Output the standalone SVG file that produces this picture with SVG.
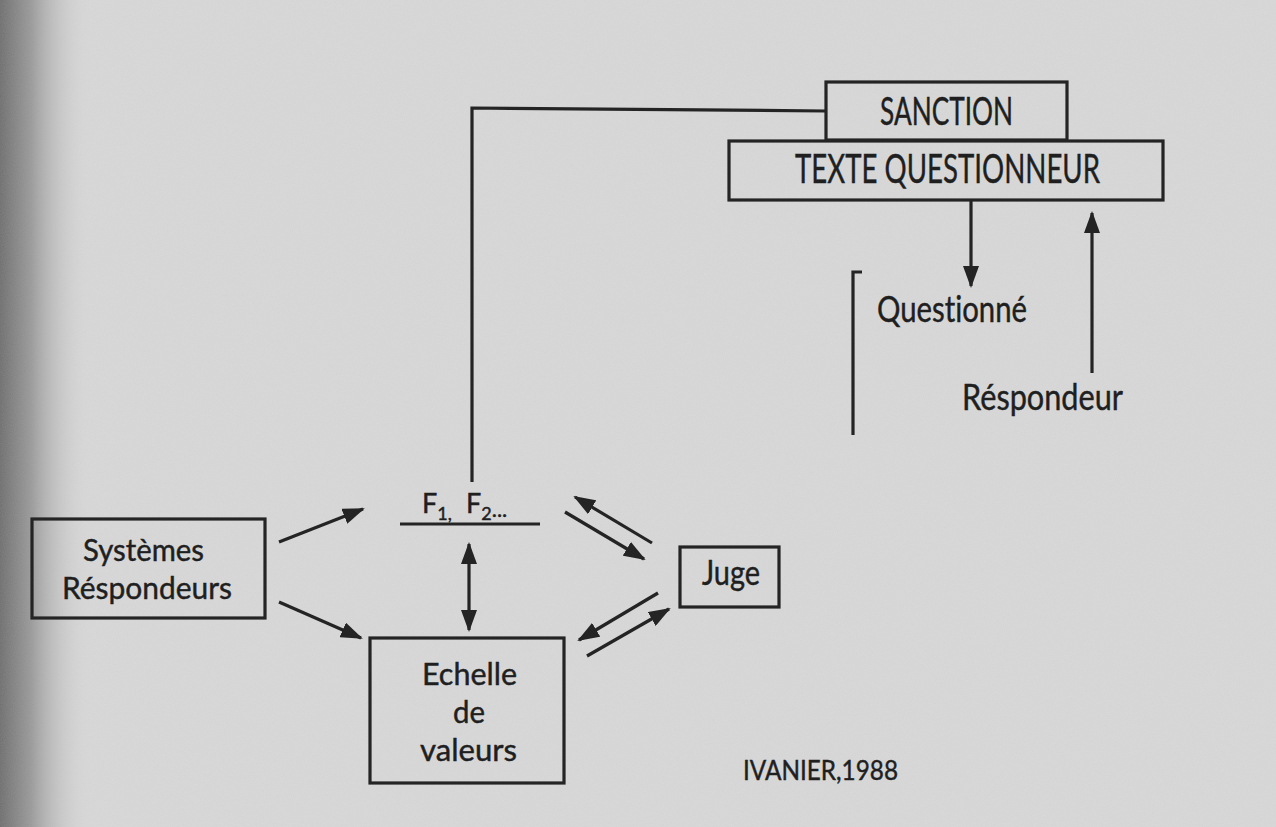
<svg xmlns="http://www.w3.org/2000/svg" width="1276" height="827" viewBox="0 0 1276 827">
<style>
.box{fill:none;stroke:#242424;stroke-width:3.2}
.ln{fill:none;stroke:#242424;stroke-width:3.2}
.arr{fill:none;stroke:#242424;stroke-width:3.2;marker-end:url(#ah)}
.t{font-family:Lato,"Noto Sans","Liberation Sans",sans-serif;fill:#1f1f1f;stroke:#1f1f1f;stroke-width:0.45;font-variant-ligatures:none}
</style>
<defs>
<marker id="ah" markerUnits="userSpaceOnUse" markerWidth="22" markerHeight="16" refX="20" refY="8" orient="auto">
<path d="M0,0 L22,8 L0,16 z" fill="#242424"/>
</marker>
<marker id="ahs" markerUnits="userSpaceOnUse" markerWidth="22" markerHeight="16" refX="20" refY="8" orient="auto-start-reverse">
<path d="M0,0 L22,8 L0,16 z" fill="#242424"/>
</marker>
<linearGradient id="shade" x1="0" y1="0" x2="1" y2="0">
<stop offset="0" stop-color="#6e6e6e"/>
<stop offset="0.35" stop-color="#9a9a9a"/>
<stop offset="1" stop-color="#d8d8d8" stop-opacity="0"/>
</linearGradient>
<filter id="grain" x="0" y="0" width="100%" height="100%">
<feTurbulence type="fractalNoise" baseFrequency="0.9" numOctaves="2" seed="3"/>
<feColorMatrix type="matrix" values="0 0 0 0 0.5  0 0 0 0 0.5  0 0 0 0 0.5  0 0 0 0.18 0"/>
</filter>
</defs>
<rect x="0" y="0" width="1276" height="827" fill="#d9d9d9"/>
<rect x="0" y="0" width="90" height="827" fill="url(#shade)"/>
<rect x="0" y="0" width="1276" height="827" filter="url(#grain)"/>

<g id="connectors">
<path class="ln" d="M472,482 L472,108 L826,111"/>
<line class="arr" x1="971" y1="200" x2="971" y2="286"/>
<line class="arr" x1="1092" y1="373" x2="1092" y2="213"/>
<path class="ln" d="M862,272 L853,272 L853,435"/>
<line class="arr" x1="279" y1="542" x2="363" y2="509"/>
<line class="arr" x1="279" y1="602" x2="361" y2="638"/>
<line class="ln" x1="469" y1="544" x2="469" y2="630" marker-start="url(#ahs)" marker-end="url(#ah)"/>
<line class="arr" x1="652" y1="543" x2="575" y2="497"/>
<line class="arr" x1="565" y1="512" x2="644" y2="559"/>
<line class="arr" x1="658" y1="593" x2="579" y2="640"/>
<line class="arr" x1="587" y1="656" x2="669" y2="609"/>
</g>

<g id="sanction">
<rect class="box" x="826" y="82" width="241" height="58"/>
<text class="t" x="880" y="125" font-size="39" textLength="133" lengthAdjust="spacingAndGlyphs">SANCTION</text>
</g>
<g id="texte-questionneur">
<rect class="box" x="729" y="141" width="434" height="59"/>
<text class="t" x="795" y="183" font-size="41" textLength="305" lengthAdjust="spacingAndGlyphs">TEXTE QUESTIONNEUR</text>
</g>
<g id="questionne">
<text class="t" x="877" y="322" font-size="37" textLength="150" lengthAdjust="spacingAndGlyphs">Questionné</text>
</g>
<g id="respondeur">
<text class="t" x="962" y="410" font-size="37" textLength="161" lengthAdjust="spacingAndGlyphs">Réspondeur</text>
</g>
<g id="systemes">
<rect class="box" x="32" y="519" width="233" height="99"/>
<text class="t" x="83" y="561" font-size="31" textLength="121" lengthAdjust="spacingAndGlyphs">Systèmes</text>
<text class="t" x="62" y="599" font-size="31" textLength="170" lengthAdjust="spacingAndGlyphs">Réspondeurs</text>
</g>
<g id="facteurs">
<text class="t" x="422" y="513" font-size="27">F<tspan font-size="18" dy="7">1,</tspan><tspan x="466" dy="-7">F</tspan><tspan font-size="18" dy="7">2</tspan><tspan font-size="22" dy="-3">...</tspan></text>
<line class="ln" x1="400" y1="524" x2="540" y2="524"/>
</g>
<g id="juge">
<rect class="box" x="680" y="547" width="99" height="60"/>
<text class="t" x="702" y="585" font-size="34" textLength="58" lengthAdjust="spacingAndGlyphs">Juge</text>
</g>
<g id="echelle">
<rect class="box" x="370" y="638" width="194" height="145"/>
<text class="t" x="422" y="685" font-size="31" textLength="95" lengthAdjust="spacingAndGlyphs">Echelle</text>
<text class="t" x="453" y="723" font-size="31" textLength="32" lengthAdjust="spacingAndGlyphs">de</text>
<text class="t" x="420" y="761" font-size="31" textLength="97" lengthAdjust="spacingAndGlyphs">valeurs</text>
</g>
<g id="source">
<text class="t" x="743" y="780" font-size="27" textLength="155" lengthAdjust="spacingAndGlyphs">IVANIER,1988</text>
</g>
</svg>
